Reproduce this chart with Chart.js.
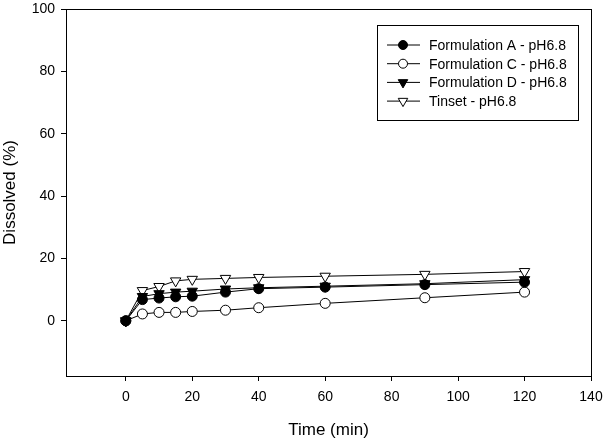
<!DOCTYPE html>
<html>
<head>
<meta charset="utf-8">
<script src="https://cdn.jsdelivr.net/npm/chart.js@4.4.1/dist/chart.umd.min.js"></script>
<style>
  html, body { margin: 0; padding: 0; background: #fff; }
  #wrap { width: 606px; height: 441px; }
</style>
</head>
<body>
<div id="wrap"><canvas id="chart"></canvas></div>
<script>
const times = [0, 5, 10, 15, 20, 30, 40, 60, 90, 120];
const formA = [0, 6.8, 7.3, 7.7, 7.9, 9.2, 10.3, 10.8, 11.6, 12.4];
const formC = [0, 2.2, 2.7, 2.7, 3.0, 3.4, 4.2, 5.6, 7.4, 9.2];
const formD = [0, 7.8, 8.7, 9.2, 9.5, 10.2, 10.6, 11.1, 11.9, 13.2];
const tinset = [0, 9.7, 11.0, 12.8, 13.3, 13.6, 13.9, 14.3, 14.9, 15.8];

const xTicks = [0, 20, 40, 60, 80, 100, 120, 140];
const yTicks = [0, 20, 40, 60, 80, 100];

const seriesLabels = ['Formulation A - pH6.8', 'Formulation C - pH6.8', 'Formulation D - pH6.8', 'Tinset - pH6.8'];

const FONT = "'Liberation Sans', Arial, sans-serif";

function toPoints(vals) {
    return times.map((t, i) => ({ x: t, y: vals[i] }));
}

function makeSet(label, vals, style, filled, rotation) {
    return {
        label: label,
        data: toPoints(vals),
        borderColor: '#000',
        borderWidth: 1,
        pointStyle: style,
        pointRotation: rotation,
        pointRadius: style === 'triangle' ? 6 : 5,
        pointBackgroundColor: filled ? '#000' : '#fff',
        pointBorderColor: '#000',
        pointBorderWidth: 1,
        tension: 0,
        fill: false
    };
}

// 枠線（上・右も含めて箱にする）— 軸の範囲に合わせる
const frame = {
    id: 'frame',
    afterDraw(chart) {
        const xs = chart.scales.x;
        const ys = chart.scales.y;
        const l = Math.round(xs.getPixelForValue(xs.min));
        const r = Math.round(xs.getPixelForValue(xs.max));
        const t = Math.round(ys.getPixelForValue(ys.max));
        const b = Math.round(ys.getPixelForValue(ys.min));
        const ctx = chart.ctx;
        ctx.save();
        ctx.strokeStyle = '#000';
        ctx.lineWidth = 1;
        ctx.strokeRect(l + 0.5, t + 0.5, r - l, b - t);
        ctx.restore();
    }
};

// 凡例は線＋マーカーの見本付きで描く
const boxLegend = {
    id: 'boxLegend',
    afterDraw(chart) {
        const ctx = chart.ctx;
        const x0 = 377, y0 = 25, w = 201, h = 95;
        ctx.save();
        ctx.fillStyle = '#fff';
        ctx.fillRect(x0, y0, w, h);
        ctx.strokeStyle = '#000';
        ctx.lineWidth = 1;
        ctx.strokeRect(x0 + 0.5, y0 + 0.5, w, h);
        ctx.font = '14px ' + FONT;
        ctx.textBaseline = 'middle';
        chart.data.datasets.forEach((ds, i) => {
            const y = 45 + i * 18.7;
            ctx.beginPath();
            ctx.strokeStyle = '#000';
            ctx.moveTo(387, y);
            ctx.lineTo(420, y);
            ctx.stroke();
            ctx.fillStyle = ds.pointBackgroundColor;
            ctx.strokeStyle = '#000';
            Chart.helpers.drawPoint(ctx, {
                pointStyle: ds.pointStyle,
                rotation: ds.pointRotation,
                radius: ds.pointRadius - 0.5,
                borderWidth: 1
            }, 403, y);
            ctx.fillStyle = '#000';
            ctx.fillText(ds.label, 429, y + 1);
        });
        ctx.restore();
    }
};

new Chart(document.getElementById('chart'), {
    type: 'line',
    data: {
        datasets: [
            makeSet(seriesLabels[0], formA, 'circle', true, 0),
            makeSet(seriesLabels[1], formC, 'circle', false, 0),
            makeSet(seriesLabels[2], formD, 'triangle', true, 180),
            makeSet(seriesLabels[3], tinset, 'triangle', false, 180)
        ]
    },
    options: {
        responsive: true,
        maintainAspectRatio: false,
        animation: false,
        layout: { padding: { left: 0, top: 9, right: 0, bottom: 0 } },
        plugins: {
            legend: { display: false },
            tooltip: { enabled: false }
        },
        scales: {
            x: {
                type: 'linear',
                min: -18,
                max: 140,
                afterBuildTicks: (scale) => { scale.ticks = xTicks.map(v => ({ value: v })); },
                afterFit: (scale) => {
                    scale.height = 65;
                    scale.paddingLeft = 0;
                    scale.paddingRight = 15;
                },
                border: { display: false },
                grid: { display: true, drawOnChartArea: false, drawTicks: true, tickLength: 5, color: '#000' },
                ticks: { color: '#000', font: { family: FONT, size: 14 }, padding: 8, maxRotation: 0 },
                title: { display: true, text: 'Time (min)', color: '#000', font: { family: FONT, size: 17 }, padding: { top: 8, bottom: 0 } }
            },
            y: {
                type: 'linear',
                min: -17.7,
                max: 100,
                afterBuildTicks: (scale) => { scale.ticks = yTicks.map(v => ({ value: v })); },
                afterFit: (scale) => {
                    scale.width = 66;
                    scale.paddingTop = 0;
                    scale.paddingBottom = 0;
                },
                border: { display: false },
                grid: { display: true, drawOnChartArea: false, drawTicks: true, tickLength: 5, color: '#000' },
                ticks: { color: '#000', font: { family: FONT, size: 14 }, padding: 6 },
                title: { display: true, text: 'Dissolved (%)', color: '#000', font: { family: FONT, size: 17 }, padding: { top: 0, bottom: 0 } }
            }
        }
    },
    plugins: [frame, boxLegend]
});
</script>
</body>
</html>
